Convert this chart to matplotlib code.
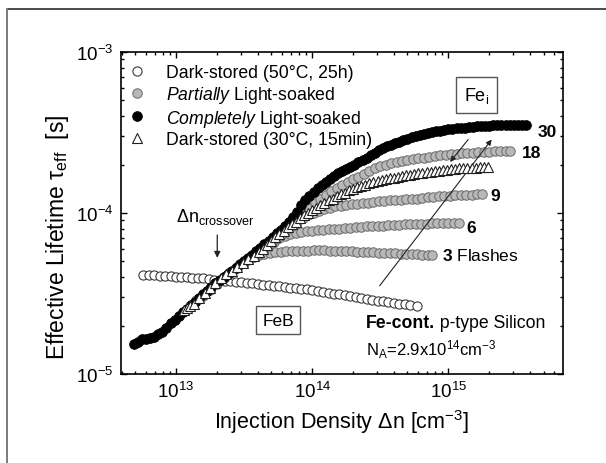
import numpy as np
import matplotlib
matplotlib.use("Agg")
import matplotlib.pyplot as plt
from matplotlib.lines import Line2D

plt.rcParams['font.family'] = ['Liberation Sans', 'DejaVu Sans']
plt.rcParams['mathtext.fontset'] = 'custom'
plt.rcParams['mathtext.rm'] = 'Liberation Sans'
plt.rcParams['mathtext.it'] = 'Liberation Sans:italic'
plt.rcParams['mathtext.bf'] = 'Liberation Sans:bold'
plt.rcParams['mathtext.default'] = 'regular'

# Dark-stored (50C, 25h) -> FeB
logn_dark50 = [12.76, 12.80, 12.84, 12.88, 12.92, 12.96, 13.00, 13.04, 13.08, 13.12,
               13.16, 13.20, 13.24, 13.28, 13.32, 13.36, 13.40, 13.44, 13.48, 13.52,
               13.56, 13.60, 13.64, 13.68, 13.72, 13.76, 13.80, 13.84, 13.88, 13.92,
               13.96, 14.00, 14.04, 14.08, 14.12, 14.16, 14.20, 14.24, 14.28, 14.32,
               14.36, 14.40, 14.44, 14.48, 14.52, 14.56, 14.60, 14.64, 14.68, 14.72, 14.77]
tau_dark50 = [41.0, 41.2, 41.0, 40.8, 40.7, 40.5, 40.3, 40.1, 39.9, 39.6,
              39.4, 39.2, 38.9, 38.3, 37.9, 37.8, 37.6, 37.4, 37.1, 36.8,
              36.5, 36.2, 35.9, 35.6, 35.3, 35.0, 34.7, 34.4, 34.1, 33.8,
              33.5, 33.2, 32.8, 32.4, 32.0, 31.6, 31.2, 30.8, 30.4, 30.0,
              29.6, 29.3, 28.9, 28.6, 28.3, 28.0, 27.7, 27.4, 27.1, 26.9, 26.6]

# Completely light-soaked (30 flashes) -> Fe_i
logn_full = [12.69, 12.72, 12.75, 12.78, 12.81, 12.84, 12.87, 12.90, 12.93, 12.96,
             12.99, 13.02, 13.05, 13.08, 13.11, 13.14, 13.17, 13.20, 13.23, 13.26,
             13.29, 13.32, 13.35, 13.38, 13.41, 13.44, 13.47, 13.50, 13.53, 13.56,
             13.59, 13.62, 13.65, 13.68, 13.71, 13.74, 13.77, 13.80, 13.83, 13.86,
             13.89, 13.92, 13.95, 13.98, 14.01, 14.04, 14.07, 14.10, 14.13, 14.16,
             14.19, 14.22, 14.25, 14.28, 14.31, 14.34, 14.37, 14.40, 14.43, 14.46,
             14.49, 14.52, 14.55, 14.58, 14.61, 14.64, 14.67, 14.70, 14.73, 14.76,
             14.79, 14.82, 14.85, 14.88, 14.91, 14.94, 14.97, 15.00, 15.03, 15.06,
             15.09, 15.12, 15.15, 15.18, 15.21, 15.24, 15.27, 15.30, 15.33, 15.36,
             15.39, 15.42, 15.45, 15.48, 15.51, 15.54, 15.57]
tau_full = [15.4, 15.8, 16.4, 16.6, 16.7, 16.9, 17.6, 18.3, 19.2, 20.6,
            21.8, 23.0, 24.2, 25.4, 26.8, 28.0, 29.6, 31.2, 32.8, 34.5,
            36.6, 38.4, 40.0, 41.9, 43.8, 45.7, 47.9, 50.2, 52.5, 55.0,
            57.8, 60.8, 64.0, 67.4, 70.8, 74.6, 78.8, 83.5, 88.5, 94.0,
            101, 112, 120, 128, 135, 142, 149, 156, 163, 170,
            176, 182, 188, 194, 200, 207, 214, 221, 229, 237,
            245, 253, 260, 266, 272, 278, 284, 290, 295, 300,
            305, 310, 314, 318, 322, 325, 328, 331, 333, 335,
            337, 339, 341, 343, 345, 347, 348, 349, 350, 351,
            352, 352, 353, 353, 352, 351, 350]

# Dark-stored (30C, 15min)
logn_dark30 = [13.06, 13.08, 13.10, 13.13, 13.17, 13.21, 13.25, 13.29, 13.33, 13.37,
               13.41, 13.45, 13.49, 13.53, 13.57, 13.61, 13.64, 13.67, 13.70, 13.73,
               13.76, 13.79, 13.82, 13.85, 13.88, 13.91, 13.94, 13.97, 14.00, 14.03,
               14.06, 14.09, 14.12, 14.15, 14.18, 14.21, 14.24, 14.27, 14.30, 14.33,
               14.36, 14.39, 14.42, 14.45, 14.48, 14.51, 14.54, 14.57, 14.60, 14.63,
               14.66, 14.69, 14.72, 14.75, 14.78, 14.81, 14.84, 14.87, 14.90, 14.93,
               14.96, 14.99, 15.02, 15.05, 15.08, 15.11, 15.14, 15.17, 15.20, 15.23,
               15.26, 15.29]
tau_dark30 = [25.0, 25.8, 26.4, 27.4, 29.5, 31.8, 34.2, 36.8, 39.2, 41.5,
              43.6, 46.0, 49.0, 51.5, 54.0, 57.0, 60.0, 63.5, 67.0, 70.5,
              74.0, 77.8, 81.5, 85.0, 88.5, 92.5, 96.5, 100, 104, 108,
              112, 116, 120, 123, 127, 131, 134, 138, 141, 144,
              147, 150, 153, 155, 158, 160, 162, 164, 166, 168,
              170, 172, 173, 175, 176, 178, 179, 181, 182, 183,
              185, 186, 187, 188, 189, 189, 190, 191, 191, 192,
              192, 193]

# Partially light-soaked, 18 / 9 / 6 / 3 flashes
logn_f18 = [13.10, 13.15, 13.20, 13.25, 13.30, 13.35, 13.40, 13.45, 13.50, 13.55,
            13.60, 13.65, 13.70, 13.74, 13.78, 13.82, 13.86, 13.90, 13.94, 13.98,
            14.02, 14.06, 14.10, 14.14, 14.18, 14.22, 14.26, 14.30, 14.34, 14.38,
            14.42, 14.46, 14.50, 14.54, 14.58, 14.62, 14.66, 14.70, 14.74, 14.78,
            14.82, 14.86, 14.90, 14.94, 14.98, 15.02, 15.06, 15.10, 15.14, 15.18,
            15.22, 15.26, 15.30, 15.34, 15.38, 15.42, 15.45]
tau_f18 = [26.5, 28.8, 31.0, 34.0, 37.2, 40.0, 43.0, 46.2, 49.5, 53.0,
           57.0, 61.5, 66.5, 71.0, 76.0, 81.5, 87.5, 94.0, 101, 108,
           115, 122, 129, 136, 143, 150, 156, 162, 168, 175,
           182, 189, 195, 200, 204, 207, 210, 213, 216, 219,
           221, 224, 226, 228, 230, 232, 233, 235, 236, 237,
           238, 239, 240, 241, 242, 243, 244]

logn_f9 = [13.10, 13.15, 13.20, 13.25, 13.30, 13.35, 13.40, 13.45, 13.50, 13.55,
           13.60, 13.65, 13.69, 13.73, 13.77, 13.81, 13.85, 13.89, 13.93, 13.97,
           14.01, 14.05, 14.09, 14.13, 14.17, 14.21, 14.25, 14.29, 14.33, 14.37,
           14.41, 14.45, 14.49, 14.53, 14.57, 14.61, 14.65, 14.69, 14.73, 14.77,
           14.81, 14.85, 14.89, 14.93, 14.97, 15.01, 15.05, 15.09, 15.13, 15.17,
           15.21, 15.25]
tau_f9 = [26.0, 28.5, 31.0, 33.8, 36.8, 39.8, 42.8, 46.0, 49.0, 52.5,
          56.0, 60.0, 64.0, 68.5, 73.0, 78.0, 83.0, 88.0, 92.5, 96.5,
          100, 103, 106, 108, 110, 111, 112, 113, 114, 115,
          116, 117, 118, 119, 120, 121, 121, 122, 123, 123,
          124, 125, 126, 127, 127, 128, 129, 129, 130, 130,
          131, 132]

logn_f6 = [13.20, 13.25, 13.30, 13.35, 13.40, 13.45, 13.50, 13.55, 13.60, 13.64,
           13.68, 13.72, 13.76, 13.80, 13.84, 13.88, 13.92, 13.96, 14.00, 14.04,
           14.08, 14.12, 14.16, 14.20, 14.24, 14.28, 14.32, 14.36, 14.40, 14.44,
           14.48, 14.52, 14.56, 14.60, 14.64, 14.68, 14.72, 14.76, 14.80, 14.84,
           14.88, 14.92, 14.96, 15.00, 15.04, 15.08]
tau_f6 = [30.8, 33.6, 36.6, 39.6, 42.6, 45.8, 49.0, 52.5, 56.0, 59.5,
          63.0, 66.5, 69.5, 72.0, 74.0, 75.5, 76.5, 77.0, 77.5, 78.0,
          78.5, 79.0, 79.5, 80.0, 80.5, 81.0, 81.5, 82.0, 82.5, 83.0,
          83.3, 83.6, 84.0, 84.3, 84.6, 85.0, 85.2, 85.5, 85.8, 86.0,
          86.2, 86.4, 86.6, 86.8, 87.0, 87.0]

logn_f3 = [13.20, 13.25, 13.30, 13.35, 13.40, 13.45, 13.49, 13.53, 13.57, 13.61,
           13.65, 13.69, 13.73, 13.77, 13.81, 13.85, 13.89, 13.93, 13.97, 14.01,
           14.05, 14.09, 14.13, 14.17, 14.21, 14.25, 14.29, 14.33, 14.37, 14.41,
           14.45, 14.49, 14.53, 14.57, 14.61, 14.65, 14.69, 14.73, 14.77, 14.81,
           14.85, 14.88]
tau_f3 = [30.6, 33.4, 36.4, 39.4, 42.4, 46.0, 49.0, 51.5, 53.5, 55.0,
          56.0, 56.8, 57.3, 57.6, 57.8, 58.0, 58.2, 58.3, 58.4, 58.5,
          58.5, 58.5, 58.4, 58.3, 58.2, 58.0, 57.8, 57.6, 57.4, 57.2,
          57.0, 56.8, 56.6, 56.4, 56.2, 56.0, 55.8, 55.6, 55.4, 55.2,
          55.0, 54.9]

legend_labels = ['Dark-stored (50°C, 25h)',
                 r'$\mathit{Partially}$ Light-soaked',
                 r'$\mathit{Completely}$ Light-soaked',
                 'Dark-stored (30°C, 15min)']


def to_xy(logn, tau_us):
    return 10.0 ** np.array(logn), np.array(tau_us) * 1e-6


fig = plt.figure(figsize=(6.06, 4.64), dpi=100)
ax = fig.add_axes([0.1992, 0.1918, 0.7299, 0.6940])

gray_kw = dict(ls='none', marker='o', ms=6.8, mfc='#b8b8b8', mec='#6a6a6a', mew=0.7, zorder=3)

x, y = to_xy(logn_dark50, tau_dark50)
h_dark50, = ax.plot(x, y, ls='none', marker='o', ms=6.6, mfc='white', mec='#3a3a3a', mew=0.8, zorder=2)

h_part = None
for logn, tau in [(logn_f3, tau_f3), (logn_f6, tau_f6), (logn_f9, tau_f9), (logn_f18, tau_f18)]:
    x, y = to_xy(logn, tau)
    h_part, = ax.plot(x, y, **gray_kw)

x, y = to_xy(logn_full, tau_full)
h_full, = ax.plot(x, y, ls='none', marker='o', ms=7.0, mfc='black', mec='black', mew=0.6, zorder=4)

x, y = to_xy(logn_dark30, tau_dark30)
h_dark30, = ax.plot(x, y, ls='none', marker='^', ms=7.2, mfc='white', mec='#202020', mew=0.8, zorder=5)

ax.set_xscale('log')
ax.set_yscale('log')
ax.set_xlim(3.93e12, 6.95e15)
ax.set_ylim(1e-5, 1e-3)

ax.tick_params(which='both', direction='in', top=True, right=True, width=1.0, labelsize=13.5)
ax.tick_params(which='major', length=4.5, pad=5)
ax.tick_params(which='minor', length=2.3)
for s in ax.spines.values():
    s.set_linewidth(1.2)

ax.set_xlabel(r'Injection Density $\Delta$n [cm$^{-3}$]', fontsize=15.5, labelpad=4)
ax.set_ylabel(r'Effective Lifetime $\tau_{\mathrm{eff}}$  [s]', fontsize=16.5)
ax.yaxis.set_label_coords(-0.113, 0.4286)

leg = ax.legend([h_dark50, h_part, h_full, h_dark30], legend_labels, loc='upper left',
                bbox_to_anchor=(0.0163, 0.963), frameon=False, fontsize=12.7,
                borderpad=0, borderaxespad=0, handlelength=1.0, handletextpad=1.15,
                labelspacing=0.16, numpoints=1)

# crossover marker
ax.text(1.0e13, 8.9e-5, r'$\Delta$n$_{\mathrm{crossover}}$', fontsize=13, ha='left', va='baseline')
ax.annotate('', xy=(2.01e13, 5.06e-5), xytext=(2.01e13, 7.6e-5),
            arrowprops=dict(arrowstyle='-|>', color='#222222', lw=0.9, mutation_scale=9))

# boxed labels
ax.text(1.61e15, 5.41e-4, r'Fe$_{\mathrm{i}}$', fontsize=13, ha='center', va='center',
        bbox=dict(boxstyle='square,pad=0.42', fc='white', ec='#555555', lw=1.0))
ax.text(5.61e13, 2.16e-5, 'FeB', fontsize=12.5, ha='center', va='center',
        bbox=dict(boxstyle='square,pad=0.36', fc='white', ec='#555555', lw=1.0))

# transition arrows
ax.annotate('', xy=(1.0e15, 2.01e-4), xytext=(1.44e15, 2.95e-4),
            arrowprops=dict(arrowstyle='-|>', color='#222222', lw=0.8, mutation_scale=8))
ax.annotate('', xy=(2.14e15, 2.95e-4), xytext=(3.04e14, 3.42e-5),
            arrowprops=dict(arrowstyle='-|>', color='#222222', lw=0.8, mutation_scale=8))

# flash counts
ax.text(4.55e15, 3.23e-4, '30', fontsize=12.5, fontweight='bold', ha='left', va='center')
ax.text(3.45e15, 2.36e-4, '18', fontsize=12.5, fontweight='bold', ha='left', va='center')
ax.text(2.02e15, 1.29e-4, '9', fontsize=12.5, fontweight='bold', ha='left', va='center')
ax.text(1.36e15, 8.18e-5, '6', fontsize=12.5, fontweight='bold', ha='left', va='center')
ax.text(8.93e14, 5.48e-5, r'$\mathbf{3}$ Flashes', fontsize=12.5, ha='left', va='center')

# sample info
t1 = ax.text(2.48e14, 1.97e-5, 'Fe-cont.', fontsize=12.7, fontweight='bold', ha='left', va='baseline')
ax.annotate(' p-type Silicon', xy=(1, 0), xycoords=t1, fontsize=12.7, ha='left', va='bottom')
ax.text(2.48e14, 1.31e-5, r'N$_{\mathrm{A}}$=2.9x10$^{14}$cm$^{-3}$', fontsize=12, ha='left', va='baseline')

# partial frame of the original figure
fig.add_artist(Line2D([6.5 / 606, 1.0], [1 - 10 / 464, 1 - 10 / 464], color='#4a4a4a', lw=1.4))
fig.add_artist(Line2D([6.5 / 606, 6.5 / 606], [0.0, 1 - 10 / 464], color='#7a7a7a', lw=1.4))

fig.savefig('out.png', dpi=100)
